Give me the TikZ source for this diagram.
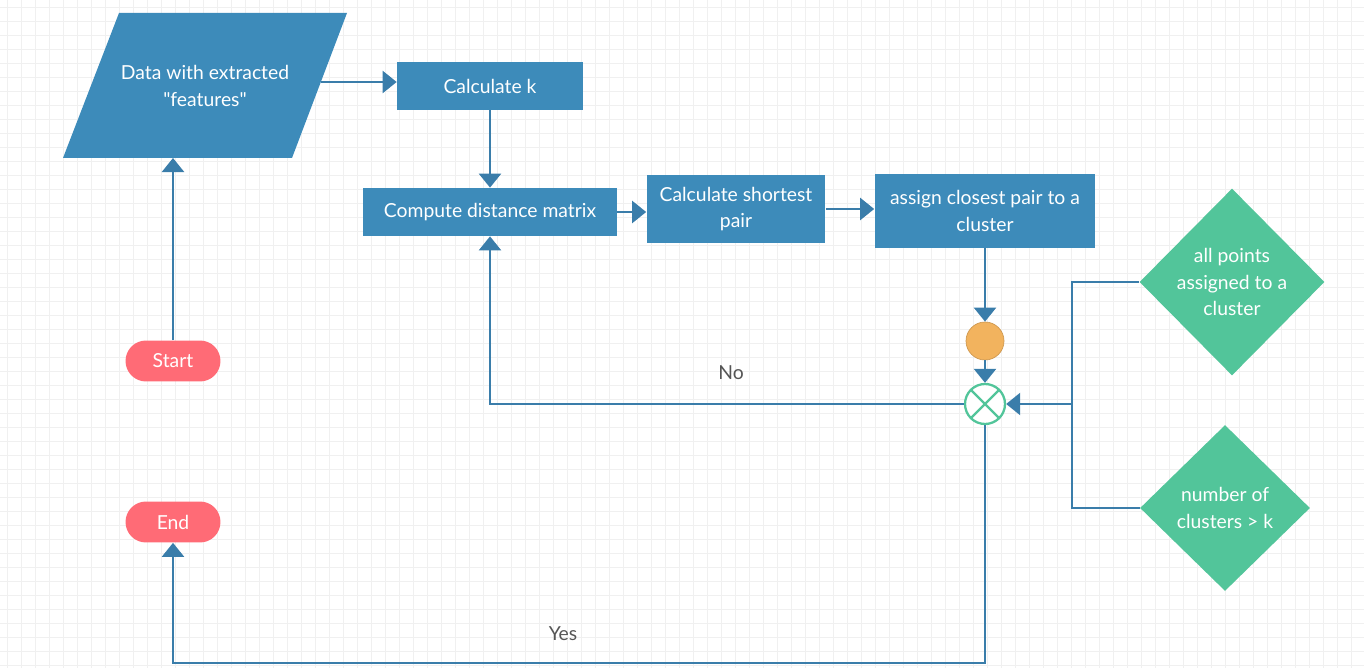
\documentclass[tikz,border=0pt]{standalone}
\usepackage{fontspec}
\setmainfont{Lato}
\usetikzlibrary{arrows.meta,positioning,calc,shapes.geometric}
\definecolor{boxblue}{HTML}{3D8BBA}
\definecolor{flowblue}{HTML}{3A7DAA}
\definecolor{termred}{HTML}{FF6B76}
\definecolor{condgreen}{HTML}{52C59A}
\definecolor{dotorange}{HTML}{F2B35E}
\definecolor{gridgray}{HTML}{F0F0F0}
\definecolor{labelgray}{HTML}{555555}

\begin{document}
\begin{tikzpicture}[x=0.02cm,y=-0.02cm,
    font=\fontsize{11}{15}\selectfont,
    process/.style={rectangle,fill=boxblue,text=white,align=center,inner sep=0pt},
    terminal/.style={rectangle,rounded corners=0.41cm,fill=termred,text=white,
      minimum width=1.9cm,minimum height=0.82cm,inner sep=0pt},
    decision/.style={diamond,fill=condgreen,text=white,align=center,inner sep=0pt},
    flow/.style={flowblue,line width=1.5pt,-{Triangle[width=12.5pt,length=8pt]}},
    link/.style={flowblue,line width=1.5pt},
    lbl/.style={text=labelgray}]
  \useasboundingbox (0,0) rectangle (1364,668);
  % background grid
  \foreach \gx in {7,21,...,1364} \draw[gridgray,line width=0.4pt] (\gx,0) -- (\gx,668);
  \foreach \gy in {7,21,...,668} \draw[gridgray,line width=0.4pt] (0,\gy) -- (1364,\gy);

  % input data
  \fill[boxblue] (119,13) -- (347,13) -- (292,158) -- (63,158) -- cycle;
  \node[text=white,align=center] (data) at (205,86) {Data with extracted\\\textquotedbl features\textquotedbl};
  \coordinate (dataout) at (321,82);
  \coordinate (datain) at (173,158);

  % processing steps
  \node[process,minimum width=3.72cm,minimum height=0.96cm] (calck) at (490,86) {Calculate k};
  \node[process,minimum width=5.08cm,minimum height=0.96cm] (dist) at (490,212) {Compute distance matrix};
  \node[process,minimum width=3.58cm,minimum height=1.38cm] (short) at (736,209) {Calculate shortest\\pair};
  \node[process,minimum width=4.42cm,minimum height=1.48cm] (assign) at (985,211) {assign closest pair to a\\cluster};

  % start / end
  \node[terminal] (start) at (173,361) {Start};
  \node[terminal] (end) at (173,522) {End};

  % junctions
  \node[circle,fill=dotorange,draw=dotorange!85!black,line width=0.4pt,minimum size=0.76cm,inner sep=0pt] (dot) at (985,341) {};
  \node[circle,draw=condgreen,fill=white,line width=1.3pt,minimum size=0.8cm,inner sep=0pt,
    path picture={\draw[condgreen,line width=1.3pt]
      (path picture bounding box.north west) -- (path picture bounding box.south east)
      (path picture bounding box.north east) -- (path picture bounding box.south west);}]
    (merge) at (985,404) {};

  % conditions
  \node[decision,minimum width=3.7cm,minimum height=3.74cm] (cond1) at (1232,282) {all points\\assigned to a\\cluster};
  \node[decision,minimum width=3.4cm,minimum height=3.32cm] (cond2) at (1225,508) {number of\\clusters > k};
  \coordinate (bus) at (1072,404);

  % connectors
  \draw[flow] (start.north) -- (datain);
  \draw[flow] (dataout) -- (dataout -| calck.west);
  \draw[flow] (calck.south) -- (dist.north);
  \draw[flow] (dist.east) -- (dist.east -| short.west);
  \draw[flow] (short.east) -- (short.east -| assign.west);
  \draw[flow] (assign.south) -- (dot.north);
  \draw[flow] (dot.south) -- (merge.north);
  \draw[link] (cond1.west) -| (bus) |- (cond2.west);
  \draw[flow] (bus) -- (merge.east);
  \draw[flow] (merge.west) -| (dist.south);
  \draw[flow] (merge.south) -- ++(0,238) -| (end.south);

  % branch labels
  \node[lbl] (no) at (731,373) {No};
  \node[lbl] (yes) at (563,634) {Yes};
\end{tikzpicture}
\end{document}
